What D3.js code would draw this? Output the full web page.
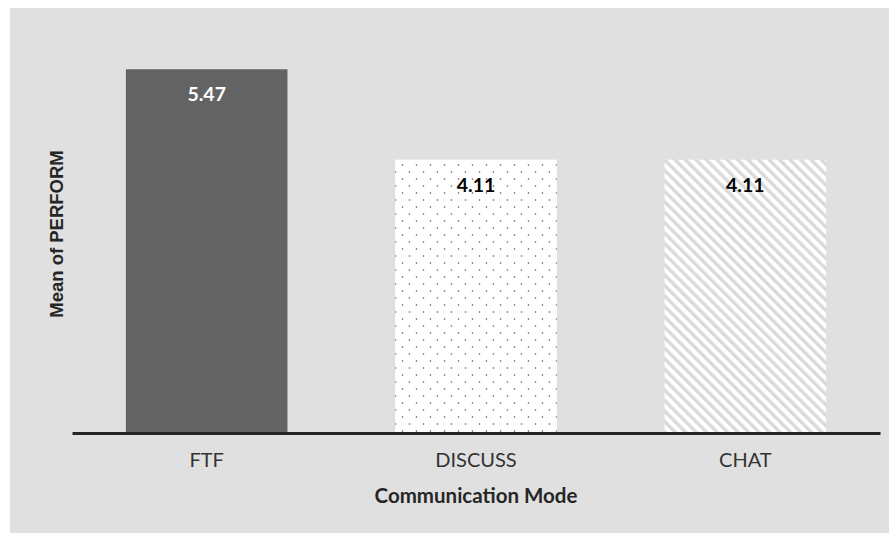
<!DOCTYPE html>
<html>
<head>
<meta charset="utf-8">
<script src="https://cdn.jsdelivr.net/npm/d3@7.8.5/dist/d3.min.js"></script>
<style>
  html, body { margin: 0; padding: 0; background: #fff; }
  svg { display: block; }
</style>
</head>
<body>
<svg width="889" height="533"></svg>
<script>
// Data
const categories = ["FTF", "DISCUSS", "CHAT"];
const means = [5.47, 4.11, 4.11];
const fills = ["solid", "dots", "hatch"];

const width = 889;
const height = 533;
const margin = { left: 72, right: 9, top: 34, baseline: 433 };

const svg = d3.select("svg");

// light gray chart area
svg.append("rect")
  .attr("x", 10)
  .attr("y", 8)
  .attr("width", width - 10)
  .attr("height", height - 8)
  .attr("fill", "#e0e0e0");

const defs = svg.append("defs");

// dotted pattern
const dots = defs.append("pattern")
  .attr("id", "dots")
  .attr("patternUnits", "userSpaceOnUse")
  .attr("width", 14)
  .attr("height", 14)
  .attr("x", 394)
  .attr("y", 162);
dots.append("rect").attr("width", 14).attr("height", 14).attr("fill", "#fff");
dots.append("circle").attr("cx", 8.5).attr("cy", 3).attr("r", 0.8).attr("fill", "#555");
dots.append("circle").attr("cx", 1.5).attr("cy", 10).attr("r", 0.8).attr("fill", "#555");

// diagonal hatch pattern
const hatch = defs.append("pattern")
  .attr("id", "hatch")
  .attr("patternUnits", "userSpaceOnUse")
  .attr("width", 7.4)
  .attr("height", 7.4)
  .attr("patternTransform", "rotate(-45)");
hatch.append("rect").attr("width", 7.4).attr("height", 7.4).attr("fill", "#fff");
hatch.append("rect").attr("width", 3.4).attr("height", 7.4).attr("fill", "#dadada");

const x = d3.scaleBand()
  .domain(categories)
  .range([margin.left, width - margin.right])
  .paddingInner(0.4)
  .paddingOuter(0.2);

const y = d3.scaleLinear()
  .domain([0, 6])
  .range([margin.baseline, margin.top]);

const fillFor = { solid: "#636363", dots: "url(#dots)", hatch: "url(#hatch)" };

const rows = categories.map((c, i) => ({ cat: c, value: means[i], fill: fills[i] }));

svg.append("g")
  .selectAll("rect")
  .data(rows)
  .enter()
  .append("rect")
  .attr("x", (d) => x(d.cat))
  .attr("y", (d) => y(d.value))
  .attr("width", x.bandwidth())
  .attr("height", (d) => y(0) - y(d.value))
  .attr("fill", (d) => fillFor[d.fill]);

// value labels
svg.append("g")
  .selectAll("text")
  .data(rows)
  .enter()
  .append("text")
  .attr("x", (d) => x(d.cat) + x.bandwidth() / 2)
  .attr("y", (d) => y(d.value) + 32)
  .attr("text-anchor", "middle")
  .attr("font-family", "Lato, 'Open Sans', sans-serif")
  .attr("font-weight", "bold")
  .attr("font-size", "19.5px")
  .attr("fill", (d) => (d.fill === "solid" ? "#fff" : "#000"))
  .text((d) => d.value.toFixed(2));

// x axis
const xAxis = svg.append("g")
  .attr("transform", `translate(0,${margin.baseline})`)
  .call(d3.axisBottom(x).tickSize(0).tickPadding(20));
xAxis.select(".domain")
  .attr("stroke", "#262626")
  .attr("stroke-width", 3);
xAxis.selectAll("text")
  .attr("font-family", "Lato, 'Open Sans', sans-serif")
  .attr("font-size", "20px")
  .attr("fill", "#333");

// axis titles
svg.append("text")
  .attr("x", x("DISCUSS") + x.bandwidth() / 2)
  .attr("y", 503)
  .attr("text-anchor", "middle")
  .attr("font-family", "Lato, 'Open Sans', sans-serif")
  .attr("font-weight", "bold")
  .attr("font-size", "20.5px")
  .attr("fill", "#262626")
  .text("Communication Mode");

svg.append("text")
  .attr("transform", "translate(63,234) rotate(-90)")
  .attr("text-anchor", "middle")
  .attr("font-family", "'Liberation Sans', Arial, sans-serif")
  .attr("font-weight", "bold")
  .attr("font-size", "18.5px")
  .attr("fill", "#262626")
  .text("Mean of PERFORM");
</script>
</body>
</html>
